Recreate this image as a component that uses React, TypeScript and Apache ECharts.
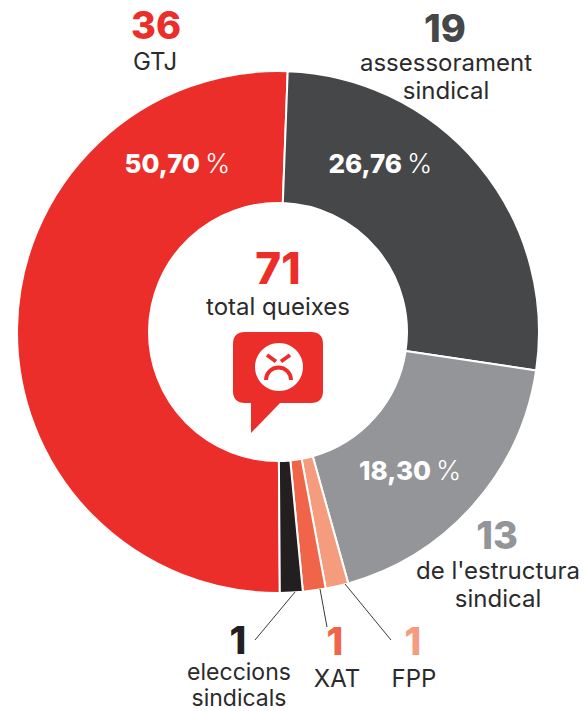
import React, { useEffect, useRef } from "react";
import * as echarts from "echarts";

const categories = ["GTJ", "assessorament\nsindical", "de l'estructura\nsindical", "FPP", "XAT", "eleccions\nsindicals"];
const values = [36, 19, 13, 1, 1, 1];
const colors = ["#ec2e2b", "#464749", "#939598", "#f59b7e", "#f0654a", "#231f20"];
const percentLabels = ["50,70", "26,76", "18,30"];
const percentSign = "%";
const totalValue = 71;
const totalLabel = "total queixes";

const FONT = "Inter, 'Noto Sans', sans-serif";
const INK = "#2b2a2c";
const Z = 10;

const BUBBLE =
  "M245 332 H311 Q323 332 323 344 V391 Q323 403 311 403 H280 L251 433 V403 H245 Q233 403 233 391 V344 Q233 332 245 332 Z";
echarts.graphic.registerShape("bubble", echarts.graphic.extendPath(BUBBLE, {}) as any);

function txt(x: number, y: number, text: string, size: number, weight: number, fill: string, align = "center") {
  return {
    type: "text",
    silent: true,
    z: Z,
    style: { x, y, text, fill, font: `${weight} ${size}px ${FONT}`, textAlign: align, textVerticalAlign: "middle" },
  };
}
function pct(xEnd: number, y: number, text: string) {
  return [txt(xEnd, y, text, 26, 800, "#fff", "right"), txt(xEnd + 5, y, percentSign, 27, 300, "#fff", "left")];
}
function leader(x1: number, y1: number, x2: number, y2: number) {
  return { type: "line", silent: true, z: Z, shape: { x1, y1, x2, y2 }, style: { stroke: "#3a3a3c", lineWidth: 1 } };
}

function multi(x: number, y: number, lh: number, text: string, size = 24) {
  return text.split("\n").map((t, i) => txt(x, y + i * lh, t, size, 400, INK));
}

export default function App() {
  const ref = useRef<HTMLDivElement>(null);
  useEffect(() => {
    const chart = echarts.init(ref.current!, null, { renderer: "svg" });
    chart.setOption({
      animation: false,
      backgroundColor: "#fff",
      series: [
        {
          type: "pie",
          center: [278, 332],
          radius: [129, 261],
          startAngle: 270.4,
          clockwise: true,
          silent: true,
          label: { show: false },
          labelLine: { show: false },
          itemStyle: { borderColor: "#fff", borderWidth: 2 },
          data: values.map((v, i) => ({ value: v, name: categories[i], itemStyle: { color: colors[i] } })),
        },
      ],
      graphic: {
        elements: [
          ...pct(200, 163, percentLabels[0]),
          ...pct(402, 163, percentLabels[1]),
          ...pct(431, 470, percentLabels[2]),
          txt(156, 25, String(values[0]), 38, 800, colors[0]),
          ...multi(155, 61, 27, categories[0], 24),
          txt(445, 28, String(values[1]), 38, 800, colors[1]),
          ...multi(446, 62, 28, categories[1]),
          txt(497, 535, String(values[2]), 38, 800, colors[2]),
          ...multi(498, 570, 28, categories[2]),
          txt(238, 640, String(values[5]), 38, 800, colors[5]),
          ...multi(239, 672, 26, categories[5], 23),
          txt(335, 641, String(values[4]), 38, 800, colors[4]),
          ...multi(337, 678, 27, categories[4]),
          txt(413, 641, String(values[3]), 38, 800, colors[3]),
          ...multi(414, 678, 27, categories[3]),
          leader(295, 592, 255, 640),
          leader(320, 589, 327, 627),
          leader(345, 584, 391, 640),
          txt(278, 268, String(totalValue), 44, 800, colors[0]),
          txt(278, 306, totalLabel, 24, 400, INK),
          { type: "bubble", silent: true, z: Z, style: { fill: colors[0] } },
          { type: "circle", silent: true, z: Z + 1, shape: { cx: 279, cy: 367, r: 24 }, style: { fill: "#fff" } },
          { type: "polyline", silent: true, z: Z + 2, shape: { points: [[267, 355], [276, 361.5]] }, style: { stroke: colors[0], lineWidth: 4, fill: null } },
          { type: "polyline", silent: true, z: Z + 2, shape: { points: [[290, 355], [281, 361.5]] }, style: { stroke: colors[0], lineWidth: 4, fill: null } },
          { type: "arc", silent: true, z: Z + 2, shape: { cx: 278.5, cy: 380, r: 12.5, startAngle: Math.PI, endAngle: 2 * Math.PI }, style: { stroke: colors[0], lineWidth: 4, fill: null } },
        ],
      },
    });
    return () => chart.dispose();
  }, []);
  return <div ref={ref} style={{ position: "absolute", left: 0, top: 0, width: 584, height: 711 }} />;
}
